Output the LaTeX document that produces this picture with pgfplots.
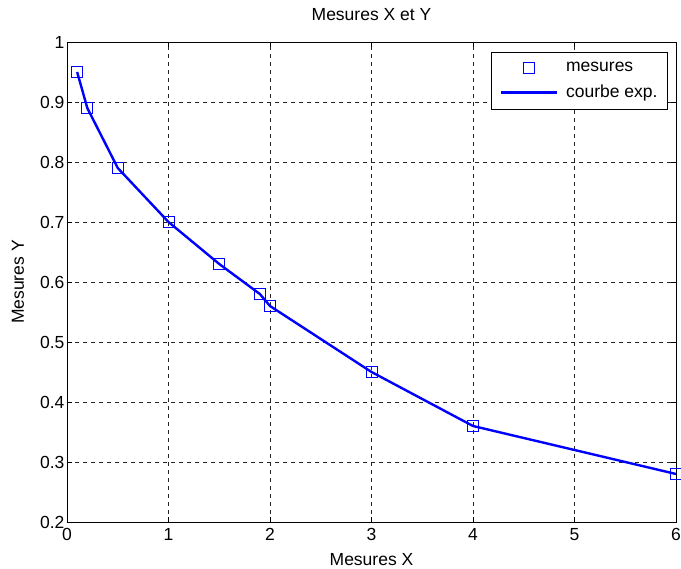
\documentclass[border=0pt]{standalone}
\usepackage{pgfplots}
\pgfplotsset{compat=1.18}
\usepackage{fontspec}
\setmainfont{Liberation Sans}
\pgfplotsset{
  legmark/.style={legend image code/.code={\draw[##1, mark repeat=2, mark phase=2] plot coordinates {(0pt,0pt)(28pt,0pt)(56pt,0pt)};}},
  legline/.style={legend image code/.code={\draw[##1] (0pt,0pt) -- (56pt,0pt);}},
}
\begin{document}
\begin{tikzpicture}
\begin{axis}[
  name=main,
  scale only axis,
  width=609pt, height=480pt,
  xmin=0, xmax=6, ymin=0.2, ymax=1,
  xtick={0,1,...,6},
  ytick={0.2,0.3,...,1.0},
  yticklabel style={/pgf/number format/fixed,/pgf/number format/precision=1, xshift=1pt},
  xticklabel style={yshift=-3pt},
  /pgf/number format/assume math mode=true,
  tick align=inside,
  major tick length=5pt,
  tick style={black, line width=0.6pt},
  axis line style={black, line width=0.8pt},
  grid=major,
  major grid style={black!85, line width=0.6pt, dash pattern=on 4pt off 4pt},
  font=\fontsize{17.5}{21}\selectfont,
  title={Mesures X et Y},
  title style={at={(axis description cs:0.5,1)}, anchor=base, yshift=15pt, inner sep=0pt},
  xlabel={Mesures X},
  ylabel={Mesures Y},
  xlabel style={at={(axis description cs:0.5,0)}, anchor=base, yshift=-44pt, inner sep=0pt},
  ylabel style={at={(axis description cs:0,0.5)}, anchor=base, yshift=43pt, inner sep=0pt},
  clip=false,
  legend style={at={(1,1)}, anchor=north east, xshift=-8pt, yshift=-10pt,
    draw=black, line width=0.8pt,
    font=\fontsize{17.5}{21}\selectfont,
    inner xsep=8pt, inner ysep=8pt,
    nodes={inner sep=2pt},
    row sep=8pt,
    /tikz/every odd column/.append style={column sep=6pt}},
  legend cell align=left,
]
\addplot[only marks, mark=square, mark size=5.5pt, blue, mark options={blue, line width=0.8pt}, legmark] coordinates {
(0.1,0.95) (0.2,0.89) (0.5,0.79) (1,0.70) (1.5,0.63) (1.9,0.58) (2,0.56) (3,0.45) (4,0.36) (6,0.28)
};
\addlegendentry{mesures}
\addplot[blue, line width=2.4pt, legline] coordinates {
(0.1,0.95) (0.2,0.89) (0.5,0.79) (1,0.70) (1.5,0.63) (1.9,0.58) (2,0.56) (3,0.45) (4,0.36) (6,0.28)
};
\addlegendentry{courbe exp.}
\end{axis}
\pgfresetboundingbox
\path (main.south west) ++(-67pt,-47pt) coordinate (bbA);
\path (main.north east) ++(5pt,42pt) coordinate (bbB);
\useasboundingbox (bbA) rectangle (bbB);
\end{tikzpicture}
\end{document}
